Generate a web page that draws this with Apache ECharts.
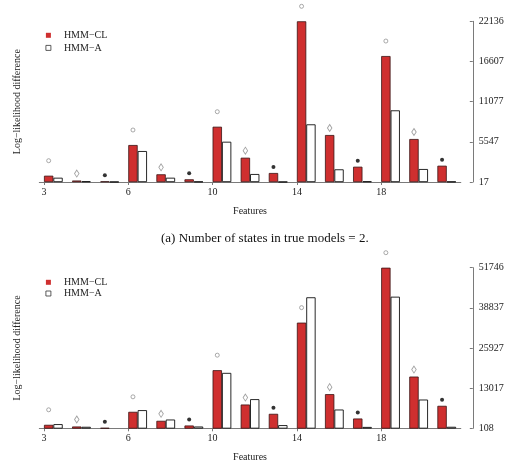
<!DOCTYPE html>
<html><head><meta charset="utf-8">
<script src="https://cdn.jsdelivr.net/npm/echarts@6/dist/echarts.min.js"></script>
<style>html,body{margin:0;padding:0;background:#fff}#c{width:510px;height:464px}</style>
</head><body><div id="c"></div>
<script>
// ---------- data ----------
const features = ['3', '6', '10', '14', '18'];
const categories = ['3a','3b','3c','6a','6b','6c','10a','10b','10c','14a','14b','14c','18a','18b','18c'];
const markerTypes = ['circle','diamond','dot','circle','diamond','dot','circle','diamond','dot','circle','diamond','dot','circle','diamond','dot'];
const seriesNames = ['HMM\u2212CL', 'HMM\u2212A'];

const clTop = [884, 220, 110, 5108, 1076, 388, 7626, 3361, 1255, 22136, 6484, 2122, 17355, 5934, 2260];
const aTop  = [609, 120, 50, 4283, 609, 80, 5562, 1118, 50, 7956, 1764, 110, 9883, 1806, 80];
const yTicksTop = ['17', '5547', '11077', '16607', '22136'];

const clBottom = [1232, 686, 250, 5405, 2516, 1007, 18796, 7750, 4764, 34080, 11090, 3255, 51746, 16741, 7333];
const aBottom  = [1456, 600, 200, 5952, 2933, 686, 17929, 9484, 1135, 42236, 6145, 550, 42428, 9356, 600];
const yTicksBottom = ['108', '13017', '25927', '38837', '51746'];

const caption = '(a) Number of states in true models = 2.';
const xTitle = 'Features';
const yTitle = 'Log\u2212likelihood difference';

// ---------- layout / style ----------
const FONT = '"Liberation Serif", "DejaVu Serif", serif';
const TXT = '#222';
const AXIS = '#7a7a7a';
const RED = '#cf2f2f';
const gridLeft = 39.3, gridWidth = 421.5;
const bandPx = gridWidth / categories.length;
const barFrac = 1 / 3;
const panels = [
  {top: 21.3, height: 160.7, cl: clTop, a: aTop, ticks: yTicksTop, legendTop: 29.8, legendGap: 1.6},
  {top: 267.7, height: 160.6, cl: clBottom, a: aBottom, ticks: yTicksBottom, legendTop: 276.8, legendGap: 0.2}
];
const markerStyle = {
  circle: {symbol: 'circle', size: 4, dy: 15, itemStyle: {color: '#fff', borderColor: '#888', borderWidth: 0.9}},
  diamond: {symbol: 'diamond', size: [4.5, 7], dy: 7, itemStyle: {color: '#fff', borderColor: '#888', borderWidth: 0.9}},
  dot: {symbol: 'circle', size: 4, dy: 6, itemStyle: {color: '#000', borderWidth: 0}}
};
// tick positions (red bar left edges) on a 0..N value axis
const tickPos = features.map((f, k) => k * 3 + (1 - 2 * barFrac) / 2);

const option = {
  animation: false,
  backgroundColor: '#fff',
  title: {text: caption, left: 156, top: 227,
    textStyle: {fontFamily: FONT, fontSize: 13, fontWeight: 'normal', color: '#111'}},
  grid: [], xAxis: [], yAxis: [], legend: [], series: []
};

panels.forEach((p, pi) => {
  option.grid.push({left: gridLeft, width: gridWidth, top: p.top, height: p.height});
  // category axis for the bars
  option.xAxis.push({
    type: 'category', gridIndex: pi, data: categories,
    axisLine: {onZero: false, lineStyle: {color: AXIS, width: 1}},
    axisTick: {show: false}, axisLabel: {show: false},
    name: xTitle, nameLocation: 'middle', nameGap: 24,
    nameTextStyle: {fontFamily: FONT, fontSize: 10, color: TXT}
  });
  // value axis carrying the feature ticks
  option.xAxis.push({
    type: 'value', gridIndex: pi, position: 'bottom', min: 0, max: categories.length,
    axisLine: {show: false}, splitLine: {show: false},
    axisTick: {show: true, customValues: tickPos, length: 3, lineStyle: {color: AXIS}},
    axisLabel: {customValues: tickPos, margin: 5, fontFamily: FONT, fontSize: 10, color: TXT,
      formatter: v => features[Math.round((v - tickPos[0]) / 3)]}
  });
  option.yAxis.push({
    type: 'value', gridIndex: pi, position: 'left',
    min: Number(p.ticks[0]),
    max: Number(p.ticks[p.ticks.length - 1]),
    axisLine: {show: false}, axisTick: {show: false}, axisLabel: {show: false}, splitLine: {show: false},
    name: yTitle, nameLocation: 'middle', nameRotate: 90, nameGap: 17,
    nameTextStyle: {fontFamily: FONT, fontSize: 10, color: TXT}
  });
  option.yAxis.push({
    type: 'value', gridIndex: pi, position: 'right', offset: 12,
    min: 0, max: p.ticks.length - 1, interval: 1,
    axisLine: {show: true, lineStyle: {color: AXIS, width: 1}},
    axisTick: {show: true, inside: true, length: 3, lineStyle: {color: AXIS}},
    axisLabel: {margin: 6, fontFamily: FONT, fontSize: 10, color: TXT, formatter: v => p.ticks[v]},
    splitLine: {show: false}
  });
  option.legend.push({
    left: 45.5, top: p.legendTop, padding: 0, orient: 'vertical', itemGap: p.legendGap,
    itemWidth: 5, itemHeight: 5, icon: 'rect', selectedMode: false,
    data: [
      {name: seriesNames[0], itemStyle: {color: RED, borderWidth: 0}},
      {name: seriesNames[1], itemStyle: {color: '#fff', borderColor: '#333', borderWidth: 0.8}}
    ],
    textStyle: {fontFamily: FONT, fontSize: 10, color: TXT, lineHeight: 11, padding: [0, 0, 0, 8]}
  });
  option.series.push({
    name: seriesNames[0], type: 'bar', xAxisIndex: pi * 2, yAxisIndex: pi * 2,
    data: p.cl, barWidth: (barFrac * 100) + '%', barGap: '0%',
    itemStyle: {color: RED, borderColor: '#3a1414', borderWidth: 0.8}
  });
  option.series.push({
    name: seriesNames[1], type: 'bar', xAxisIndex: pi * 2, yAxisIndex: pi * 2,
    data: p.a, barWidth: (barFrac * 100) + '%', barGap: '0%',
    itemStyle: {color: '#fff', borderColor: '#111', borderWidth: 0.9}
  });
  option.series.push({
    type: 'scatter', xAxisIndex: pi * 2, yAxisIndex: pi * 2, silent: true, z: 5,
    data: p.cl.map((v, i) => {
      const m = markerStyle[markerTypes[i]];
      return {value: v, symbol: m.symbol, symbolSize: m.size,
        symbolOffset: [-bandPx * barFrac / 2, -m.dy], itemStyle: m.itemStyle};
    })
  });
});

const chart = echarts.init(document.getElementById('c'), null, {renderer: 'canvas'});
chart.setOption(option);
</script>
</body></html>
